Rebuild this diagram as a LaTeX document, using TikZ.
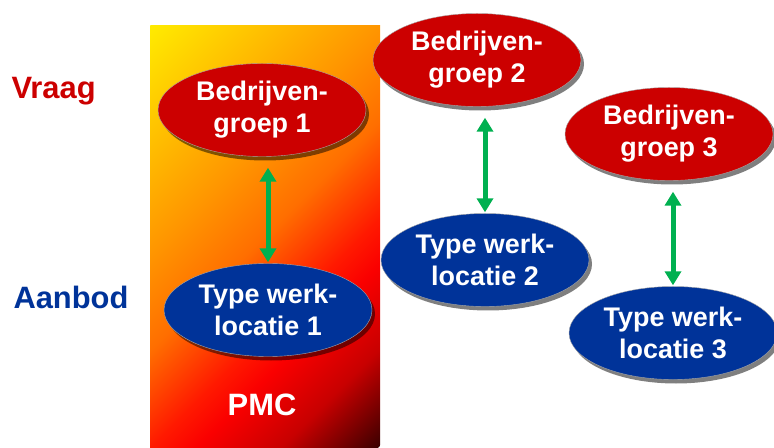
\documentclass[tikz,border=0pt]{standalone}
\usepackage{fontspec}
\setmainfont{Liberation Sans}
\usetikzlibrary{shapes,arrows.meta,shadows}
\definecolor{vraagred}{RGB}{204,0,0}
\definecolor{aanbodblue}{RGB}{0,51,153}
\definecolor{linkgreen}{RGB}{0,176,80}
\definecolor{pmcyellow}{RGB}{255,235,0}
\definecolor{pmcorange}{RGB}{255,150,0}
\definecolor{pmcamber}{RGB}{255,110,0}
\definecolor{pmcscarlet}{RGB}{255,25,0}
\definecolor{pmcred}{RGB}{250,0,0}
\definecolor{pmcmaroon}{RGB}{200,0,0}
\definecolor{pmcdark}{RGB}{60,0,0}
\pgfdeclarehorizontalshading{pmcshade}{100bp}{color(0bp)=(pmcyellow); color(25bp)=(pmcyellow); color(42.5bp)=(pmcorange); color(50bp)=(pmcamber); color(57.5bp)=(pmcscarlet); color(61bp)=(pmcred); color(67.5bp)=(pmcmaroon); color(75bp)=(pmcdark); color(100bp)=(pmcdark)}

\begin{document}
\begin{tikzpicture}[x=1bp, y=-1bp,
    groep/.style={ellipse, draw=gray!70, fill=#1, minimum width=208bp, minimum height=93bp, inner sep=0pt, align=center, text=white, font=\fontsize{27}{32}\selectfont\bfseries, drop shadow={shadow xshift=3bp, shadow yshift=-4bp, fill=black, opacity=.5}},
    side/.style={anchor=west, text=#1, font=\fontsize{31}{36}\selectfont\bfseries},
    link/.style={{Triangle[width=16bp,length=14bp]}-{Triangle[width=16bp,length=14bp]}, line width=5bp, linkgreen, shorten <=11bp, shorten >=1bp}
  ]
    \useasboundingbox (0,0) rectangle (774,448);

    % PMC band
    \begin{scope}
      \clip (150,26) rectangle (380,448);
      \shade[shading=pmcshade, transform canvas={rotate around={-45:(150,26)}}] (150,-330) rectangle (609.6,380);
    \end{scope}
    \node[text=white, font=\fontsize{31}{36}\selectfont\bfseries] (pmc) at (262,405) {PMC};

    % Side labels
    \node[side=vraagred] (vraag) at (8,91) {Vraag};
    \node[side=aanbodblue] (aanbod) at (10,297) {Aanbod};

    % Vraag
    \node[groep=vraagred] (grp1) at (262,110) {Bedrijven-\\groep 1};
    \node[groep=vraagred] (grp2) at (477,60) {Bedrijven-\\groep 2};
    \node[groep=vraagred] (grp3) at (669,134) {Bedrijven-\\groep 3};

    % Aanbod
    \node[groep=aanbodblue] (loc1) at (268,310) {Type werk-\\locatie 1};
    \node[groep=aanbodblue] (loc2) at (485,260) {Type werk-\\locatie 2};
    \node[groep=aanbodblue] (loc3) at (673,333) {Type werk-\\locatie 3};

    % Connections
    \draw[link] (loc1.north |- grp1.south) -- (loc1.north);
    \draw[link] (loc2.north |- grp2.south) -- (loc2.north);
    \draw[link] (loc3.north |- grp3.south) -- (loc3.north);
  \end{tikzpicture}
\end{document}
